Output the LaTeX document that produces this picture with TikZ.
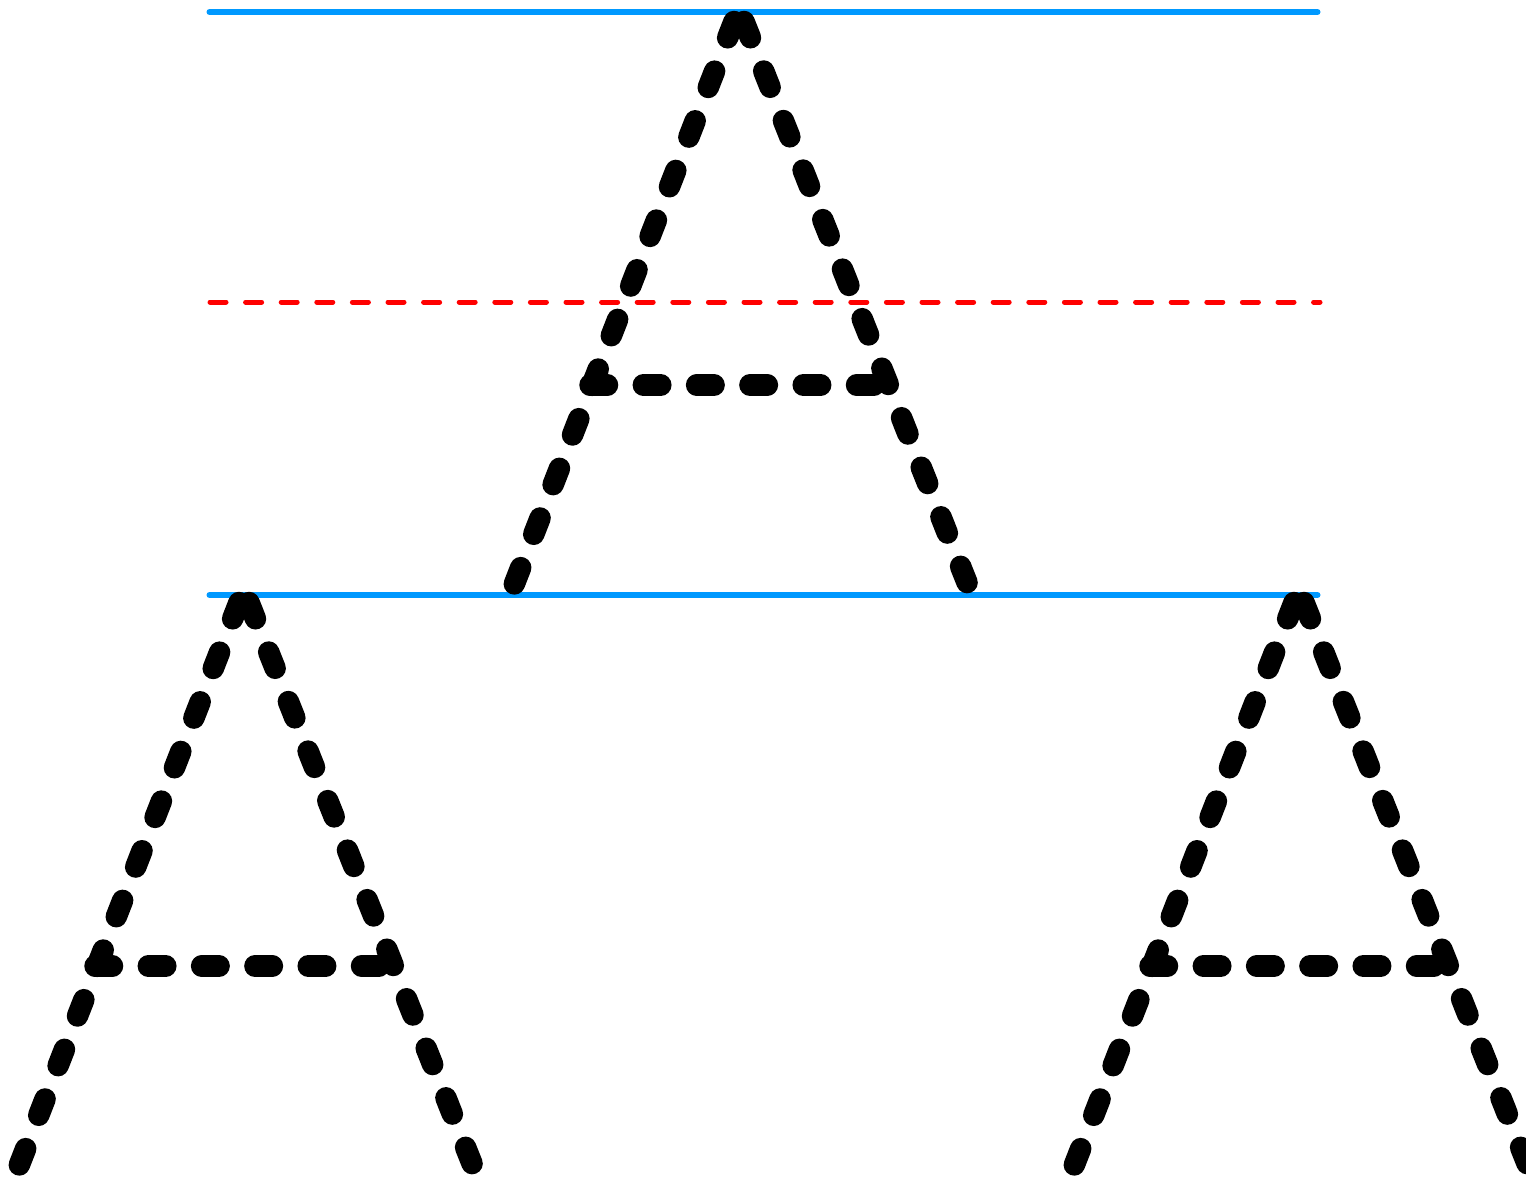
\documentclass[tikz,border=0pt]{standalone}
\definecolor{guideblue}{RGB}{0,153,255}
\begin{document}
\begin{tikzpicture}[x=1pt,y=-1pt,
  strokeA/.style={line width=21.5pt, line cap=round, line join=round, black, dash pattern=on 17.5pt off 35.8pt},
  guideline/.style={line width=6pt, line cap=round, guideblue},
  midline/.style={line width=5pt, line cap=round, red, dash pattern=on 16pt off 19.6pt},
  letterA/.pic={
    \draw[strokeA] (0,0) -- (-224,573.5);
    \draw[strokeA] (10,0) -- (238,573.5);
    \draw[strokeA] (-144,363.5) -- (154,363.5);
  }]
\useasboundingbox (0,0) rectangle (1526,1176);
\clip (0,0) rectangle (1526,1176);
% guide lines
\coordinate (t1) at (209.5,12);
\coordinate (t2) at (1317.5,12);
\coordinate (b1) at (209.5,595);
\coordinate (b2) at (1317.5,595);
\coordinate (m1) at (210,302);
\coordinate (m2) at (1320,302);
\draw[guideline] (t1) -- (t2);
\draw[guideline] (b1) -- (b2);
\draw[midline] (m1) -- (m2);
% letters
\pic at (734,21.5) {letterA};
\pic at (239,602.5) {letterA};
\pic at (1294,602.5) {letterA};
\end{tikzpicture}
\end{document}
